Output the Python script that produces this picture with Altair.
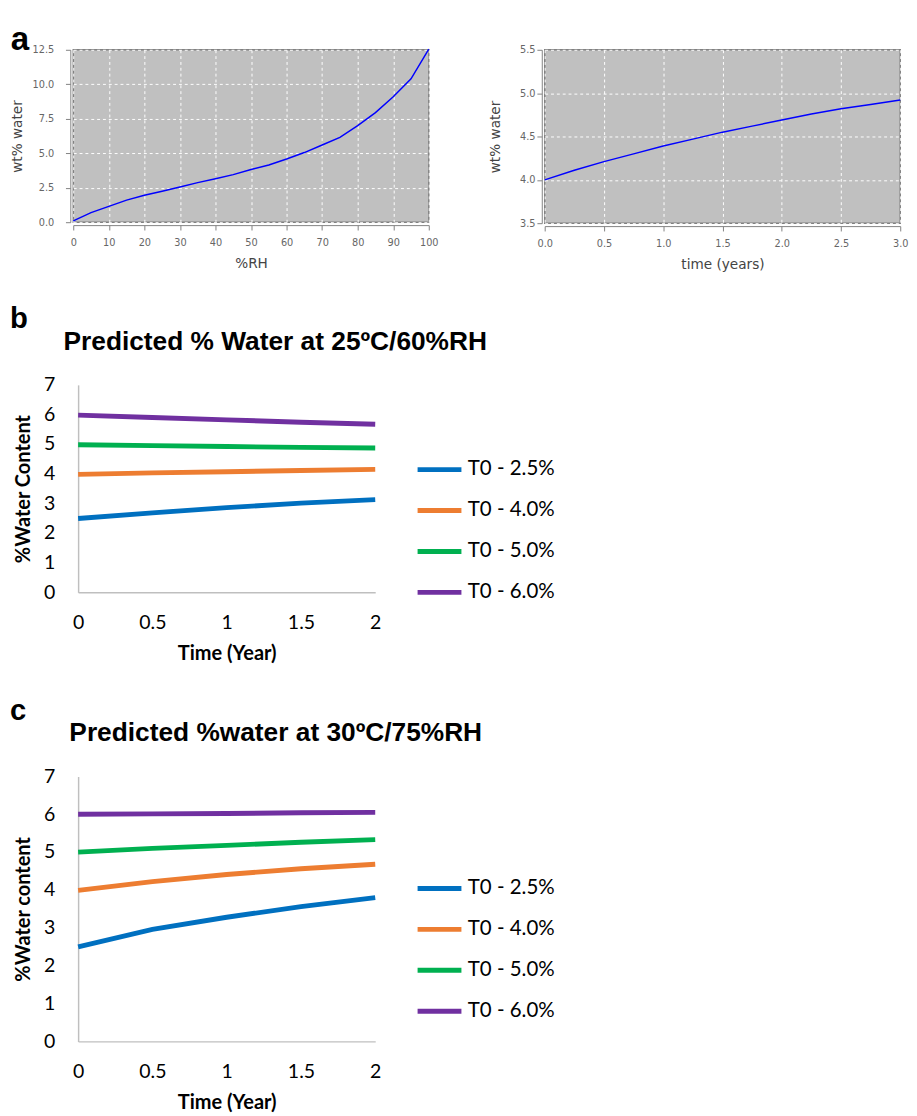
import altair as alt
import pandas as pd

# ---- panel a (left): sorption isotherm ----
rh = [0, 5, 10, 15, 20, 25, 30, 35, 40, 45, 50, 55, 60, 65, 70, 75, 80, 85, 90, 95, 100]
wt_rh = [0.1, 0.7, 1.15, 1.6, 1.95, 2.25, 2.55, 2.87, 3.15, 3.45, 3.82, 4.15, 4.58,
         5.05, 5.6, 6.15, 7.0, 7.95, 9.1, 10.4, 12.55]

# ---- panel a (right): water vs time ----
t_years = [0, 0.25, 0.5, 0.75, 1.0, 1.25, 1.5, 1.75, 2.0, 2.25, 2.5, 2.75, 3.0]
wt_t = [4.0, 4.11, 4.21, 4.30, 4.39, 4.47, 4.55, 4.62, 4.69, 4.76, 4.82, 4.87, 4.92]

# ---- panels b, c ----
time = [0, 0.5, 1, 1.5, 2]
series = ["T0 - 2.5%", "T0 - 4.0%", "T0 - 5.0%", "T0 - 6.0%"]
colors = ["#0070C0", "#ED7D31", "#00B050", "#7030A0"]

b_25 = [2.49, 2.68, 2.86, 3.01, 3.13]
b_40 = [3.98, 4.03, 4.07, 4.11, 4.15]
b_50 = [4.98, 4.95, 4.92, 4.89, 4.87]
b_60 = [5.98, 5.90, 5.82, 5.74, 5.67]

c_25 = [2.50, 2.96, 3.28, 3.56, 3.80]
c_40 = [3.99, 4.22, 4.41, 4.56, 4.68]
c_50 = [5.00, 5.10, 5.18, 5.26, 5.33]
c_60 = [6.00, 6.01, 6.02, 6.04, 6.05]


def long_df(vals):
    rows = []
    for s, v in zip(series, vals):
        for t, y in zip(time, v):
            rows.append({"time": t, "value": y, "series": s})
    return pd.DataFrame(rows)


df_iso = pd.DataFrame({"rh": rh, "wt": wt_rh})
df_time = pd.DataFrame({"t": t_years, "wt": wt_t})
df_b = long_df([b_25, b_40, b_50, b_60])
df_c = long_df([c_25, c_40, c_50, c_60])


def spacer():
    # invisible 1x1 cell used only to offset neighbouring panels
    return alt.Chart(pd.DataFrame({"e": [0]})).mark_point(
        size=0, opacity=0, strokeWidth=0, filled=True).properties(width=1, height=1)


A_FONT = "DejaVu Sans"


def a_axis(title, values, fmt, label_pad, title_pad):
    return alt.Axis(
        title=title, values=values, format=fmt, grid=True, gridColor="white",
        gridDash=[3, 3], gridWidth=1, domainColor="#808080", tickColor="#808080",
        tickSize=5, offset=3, labelFont=A_FONT, labelFontSize=10, labelColor="#666666",
        labelPadding=label_pad, titleFont=A_FONT, titleFontSize=14,
        titleFontWeight="normal", titleColor="#444444", labelFlush=False,
        titlePadding=title_pad,
    )


a_view = alt.ViewBackground(fill="#C0C0C0", stroke="#808080", strokeWidth=1.5)

aL = alt.Chart(df_iso).mark_line(color="#0000FF", strokeWidth=1.5).encode(
    x=alt.X("rh:Q", scale=alt.Scale(domain=[0, 100], nice=False),
            axis=a_axis("%RH", list(range(0, 101, 10)), "d", 8, 10)),
    y=alt.Y("wt:Q", scale=alt.Scale(domain=[0, 12.5], nice=False),
            axis=a_axis("wt% water", [0, 2.5, 5, 7.5, 10, 12.5], ".1f", 12, 8)),
).properties(
    width=365, height=177, view=a_view,
    title=alt.Title("a", anchor="start", frame="bounds", fontSize=34,
                    font="Liberation Sans", fontWeight="bold", color="black",
                    offset=-12, dx=0),
)

aR = alt.Chart(df_time).mark_line(color="#0000FF", strokeWidth=1.5).encode(
    x=alt.X("t:Q", scale=alt.Scale(domain=[0, 3], nice=False),
            axis=a_axis("time (years)", [0, 0.5, 1, 1.5, 2, 2.5, 3], ".1f", 8, 10)),
    y=alt.Y("wt:Q", scale=alt.Scale(domain=[3.5, 5.5], nice=False),
            axis=a_axis("wt% water", [3.5, 4, 4.5, 5, 5.5], ".1f", 2, 18)),
).properties(width=365, height=178, view=a_view)

row_a = alt.hconcat(spacer(), alt.hconcat(aL, aR, spacing=49), spacing=0)

B_FONT = "Lato"


def panel(df, title, title_dx, ytitle, height, legend_y):
    return alt.Chart(df).mark_line(strokeWidth=5).encode(
        x=alt.X("time:Q", scale=alt.Scale(domain=[0, 2], nice=False),
                axis=alt.Axis(values=[0, 0.5, 1, 1.5, 2], format="~g", title="Time (Year)",
                              grid=False, ticks=False, domainColor="#BFBFBF", domainWidth=1.5,
                              labelFont=B_FONT, labelFontSize=20, labelColor="black",
                              labelPadding=21, labelFlush=False,
                              titleFont=B_FONT, titleFontSize=20.5,
                              titleFontWeight="bold", titleColor="black", titlePadding=12)),
        y=alt.Y("value:Q", scale=alt.Scale(domain=[0, 7], nice=False),
                axis=alt.Axis(values=list(range(8)), format="d", title=ytitle,
                              grid=False, ticks=False, domainColor="#BFBFBF", domainWidth=1.5,
                              labelFont=B_FONT, labelFontSize=20, labelColor="black",
                              labelPadding=24, titleFont=B_FONT, titleFontSize=20.5,
                              titleFontWeight="bold", titleColor="black", titlePadding=10)),
        color=alt.Color("series:N", scale=alt.Scale(domain=series, range=colors),
                        legend=alt.Legend(orient="none", legendX=346, legendY=legend_y,
                                          title=None, symbolType="stroke", symbolSize=2025,
                                          symbolStrokeWidth=5, labelFont=B_FONT,
                                          labelFontSize=21, labelColor="black",
                                          rowPadding=7, labelOffset=4, padding=0)),
    ).properties(
        width=305, height=height,
        title=alt.Title(title, anchor="start", frame="group", dx=title_dx, fontSize=27,
                        font="Liberation Sans", fontWeight="bold", color="black", offset=20),
    )


bChart = panel(df_b, "Predicted % Water at 25ºC/60%RH", -15, "%Water Content", 213, 62)
cChart = panel(df_c, "Predicted %water at 30ºC/75%RH", -9, "%Water content", 272, 90)

b_wrap = alt.hconcat(
    spacer(), bChart, spacing=5,
    title=alt.Title("b", anchor="start", fontSize=30, font="Liberation Sans",
                    fontWeight="bold", color="black", offset=-6, dx=2),
).resolve_legend(color="independent")
c_wrap = alt.hconcat(
    spacer(), cChart, spacing=5,
    title=alt.Title("c", anchor="start", fontSize=30, font="Liberation Sans",
                    fontWeight="bold", color="black", offset=-6, dx=2),
).resolve_legend(color="independent")

chart = alt.concat(
    row_a, b_wrap, c_wrap, columns=1, align="none", spacing=33
).properties(padding=0).resolve_scale(color="independent").resolve_legend(
    color="independent"
).configure_view(stroke=None)

chart.save("out.html", embed_options={"renderer": "svg", "actions": False})
